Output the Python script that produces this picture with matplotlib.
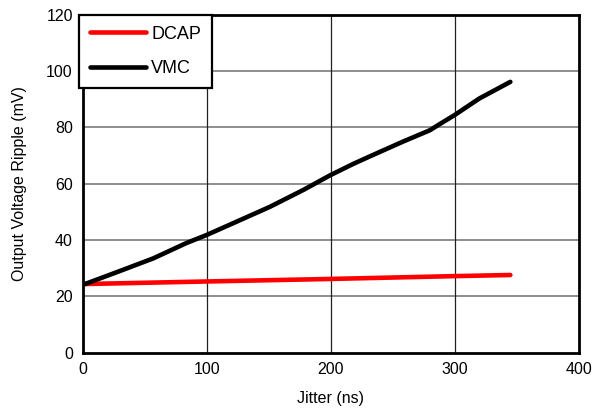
import matplotlib
matplotlib.use("Agg")
import matplotlib.pyplot as plt
import numpy as np

plt.rcParams['font.family'] = ['Liberation Sans', 'DejaVu Sans']

vmc_x = [2, 30, 57, 84, 100, 124, 151, 178, 200, 218, 232, 258, 280, 291, 300, 320, 345]
vmc_y = [24.4, 29.0, 33.5, 39.0, 41.8, 46.5, 51.8, 57.8, 63.1, 67.0, 69.8, 74.9, 79.0, 82.0, 84.4, 90.3, 96.2]
dcap_x = [2, 100, 200, 300, 345]
dcap_y = [24.4, 25.3, 26.2, 27.2, 27.6]

xticks = [0, 100, 200, 300, 400]
yticks = [0, 20, 40, 60, 80, 100, 120]

fig = plt.figure(figsize=(5.94, 4.13), dpi=100)
ax = fig.add_axes([0.139, 0.146, 0.835, 0.818])

ax.plot(dcap_x, dcap_y, color='#ff0000', lw=3.3, solid_capstyle='round',
        solid_joinstyle='round', label='DCAP', zorder=3)
ax.plot(vmc_x, vmc_y, color='black', lw=3.3, solid_capstyle='round',
        solid_joinstyle='round', label='VMC', zorder=3)

ax.set_xlim(0, 400)
ax.set_ylim(0, 120)
ax.set_xticks(xticks)
ax.set_yticks(yticks)
for y in yticks[1:-1]:
    ax.axhline(y, color='#707070', lw=1.1, zorder=1)
for x in xticks[1:-1]:
    ax.axvline(x, color='#202020', lw=0.9, zorder=1)

for s in ax.spines.values():
    s.set_linewidth(2)
    s.set_color('black')
ax.tick_params(length=0, labelsize=11.5, pad=7)
ax.set_xlabel('Jitter (ns)', fontsize=11.5, labelpad=10)
ax.set_ylabel('Output Voltage Ripple (mV)', fontsize=11.5, labelpad=14)

leg = ax.legend(loc='upper left', bbox_to_anchor=(-0.007, 1.0), fontsize=13,
                frameon=True, fancybox=False, handlelength=3.1, handletextpad=0.3,
                borderpad=0.6, labelspacing=0.95, borderaxespad=0.0)
leg.get_frame().set_edgecolor('black')
leg.get_frame().set_linewidth(1.6)
leg.get_frame().set_alpha(1)

fig.savefig('out.png', dpi=100)
